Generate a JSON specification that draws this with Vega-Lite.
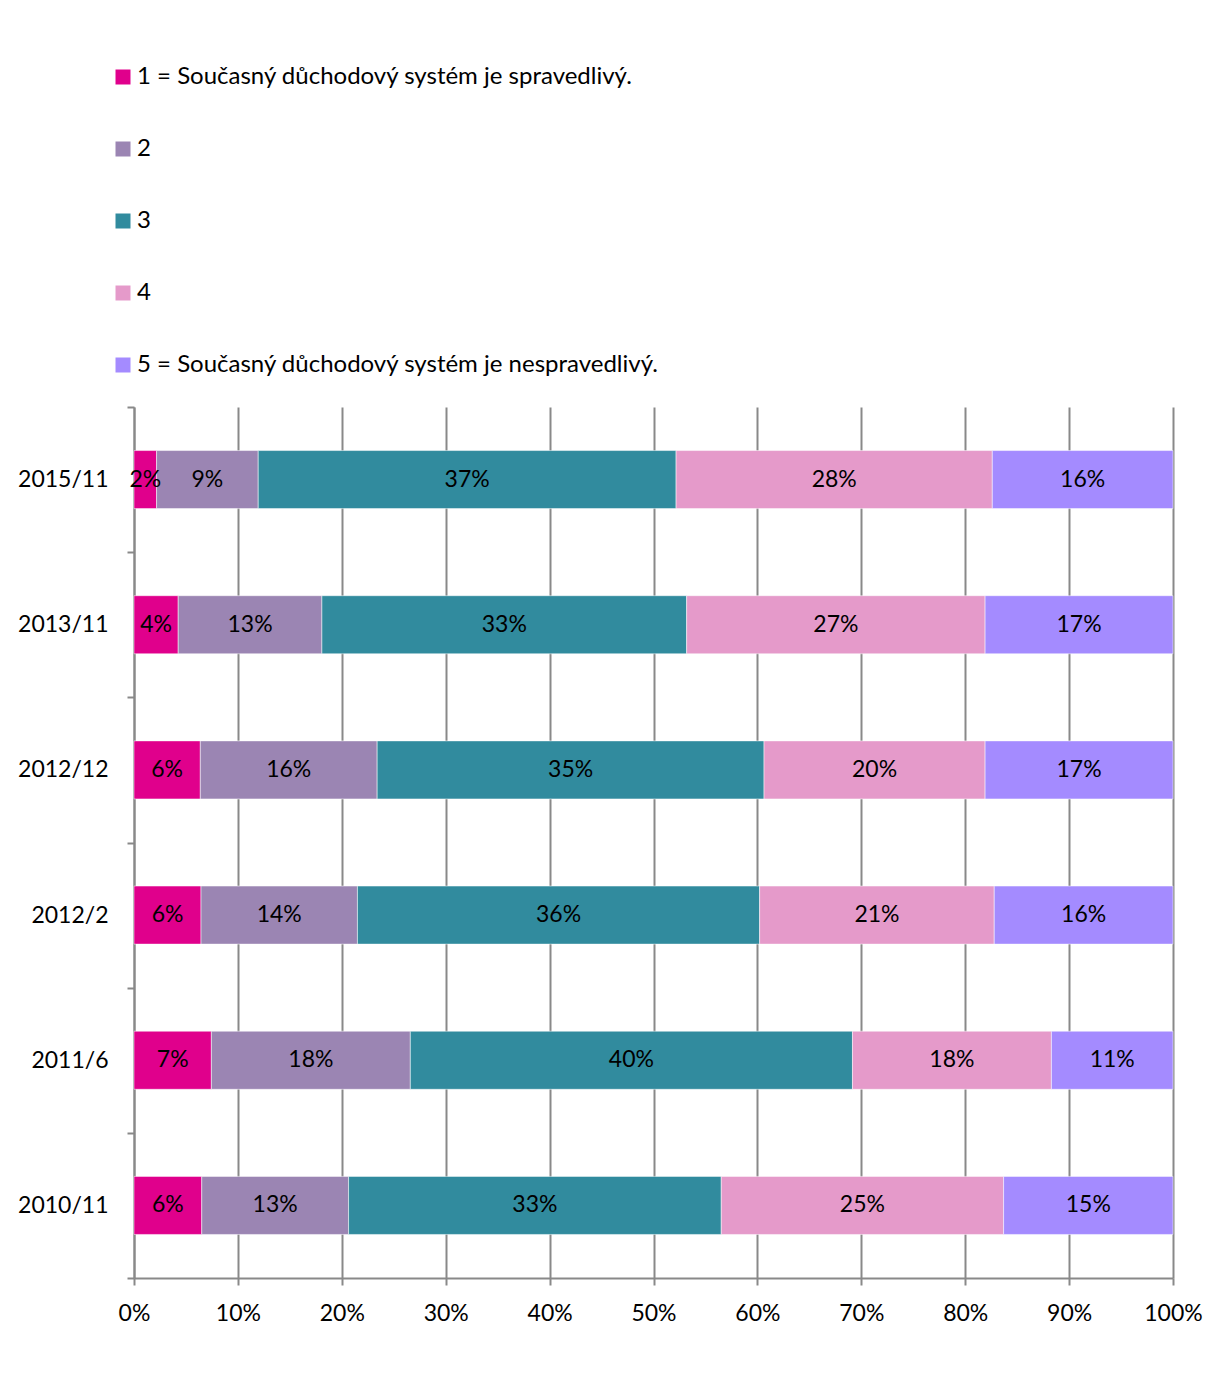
{
  "$schema": "https://vega.github.io/schema/vega-lite/v6.json",
  "autosize": {"type": "none"},
  "width": 1039,
  "height": 871,
  "padding": {"top": 407, "left": 134, "right": 36, "bottom": 104},
  "background": "white",
  "config": {
    "font": "Lato",
    "view": {"stroke": null}
  },
  "data": {
    "values": [
      {"period": "2015/11", "cat": "1 = Současný důchodový systém je spravedlivý.", "ord": 1, "value": 0.02},
      {"period": "2015/11", "cat": "2", "ord": 2, "value": 0.09},
      {"period": "2015/11", "cat": "3", "ord": 3, "value": 0.37},
      {"period": "2015/11", "cat": "4", "ord": 4, "value": 0.28},
      {"period": "2015/11", "cat": "5 = Současný důchodový systém je nespravedlivý.", "ord": 5, "value": 0.16},
      {"period": "2013/11", "cat": "1 = Současný důchodový systém je spravedlivý.", "ord": 1, "value": 0.04},
      {"period": "2013/11", "cat": "2", "ord": 2, "value": 0.13},
      {"period": "2013/11", "cat": "3", "ord": 3, "value": 0.33},
      {"period": "2013/11", "cat": "4", "ord": 4, "value": 0.27},
      {"period": "2013/11", "cat": "5 = Současný důchodový systém je nespravedlivý.", "ord": 5, "value": 0.17},
      {"period": "2012/12", "cat": "1 = Současný důchodový systém je spravedlivý.", "ord": 1, "value": 0.06},
      {"period": "2012/12", "cat": "2", "ord": 2, "value": 0.16},
      {"period": "2012/12", "cat": "3", "ord": 3, "value": 0.35},
      {"period": "2012/12", "cat": "4", "ord": 4, "value": 0.20},
      {"period": "2012/12", "cat": "5 = Současný důchodový systém je nespravedlivý.", "ord": 5, "value": 0.17},
      {"period": "2012/2", "cat": "1 = Současný důchodový systém je spravedlivý.", "ord": 1, "value": 0.06},
      {"period": "2012/2", "cat": "2", "ord": 2, "value": 0.14},
      {"period": "2012/2", "cat": "3", "ord": 3, "value": 0.36},
      {"period": "2012/2", "cat": "4", "ord": 4, "value": 0.21},
      {"period": "2012/2", "cat": "5 = Současný důchodový systém je nespravedlivý.", "ord": 5, "value": 0.16},
      {"period": "2011/6", "cat": "1 = Současný důchodový systém je spravedlivý.", "ord": 1, "value": 0.07},
      {"period": "2011/6", "cat": "2", "ord": 2, "value": 0.18},
      {"period": "2011/6", "cat": "3", "ord": 3, "value": 0.40},
      {"period": "2011/6", "cat": "4", "ord": 4, "value": 0.18},
      {"period": "2011/6", "cat": "5 = Současný důchodový systém je nespravedlivý.", "ord": 5, "value": 0.11},
      {"period": "2010/11", "cat": "1 = Současný důchodový systém je spravedlivý.", "ord": 1, "value": 0.06},
      {"period": "2010/11", "cat": "2", "ord": 2, "value": 0.13},
      {"period": "2010/11", "cat": "3", "ord": 3, "value": 0.33},
      {"period": "2010/11", "cat": "4", "ord": 4, "value": 0.25},
      {"period": "2010/11", "cat": "5 = Současný důchodový systém je nespravedlivý.", "ord": 5, "value": 0.15}
    ]
  },
  "encoding": {
    "y": {
      "field": "period",
      "type": "nominal",
      "sort": ["2015/11", "2013/11", "2012/12", "2012/2", "2011/6", "2010/11"],
      "scale": {"paddingInner": 0, "paddingOuter": 0},
      "axis": {
        "title": null,
        "tickBand": "extent",
        "tickSize": 7,
        "tickColor": "#898989",
        "tickWidth": 2,
        "domainColor": "#898989",
        "domainWidth": 2,
        "labelFontSize": 23,
        "labelColor": "black",
        "labelPadding": 19,
        "labelFont": "Lato",
        "grid": false
      }
    }
  },
  "layer": [
    {
      "mark": {"type": "bar", "height": {"band": 0.4}, "stroke": "white", "strokeWidth": 0.5},
      "encoding": {
        "x": {
          "field": "value",
          "type": "quantitative",
          "stack": "normalize",
          "scale": {"domain": [0, 1]},
          "axis": {
            "title": null,
            "format": ".0%",
            "values": [0, 0.1, 0.2, 0.3, 0.4, 0.5, 0.6, 0.7, 0.8, 0.9, 1],
            "labelFlush": false,
            "labelOverlap": false,
            "grid": true,
            "gridColor": "#898989",
            "gridWidth": 2,
            "gridOpacity": 1,
            "tickSize": 7,
            "tickColor": "#898989",
            "tickWidth": 2,
            "domainColor": "#898989",
            "domainWidth": 2,
            "labelFontSize": 23,
            "labelColor": "black",
            "labelPadding": 17,
            "labelFont": "Lato"
          }
        },
        "color": {
          "field": "cat",
          "type": "nominal",
          "sort": ["1 = Současný důchodový systém je spravedlivý.", "2", "3", "4", "5 = Současný důchodový systém je nespravedlivý."],
          "scale": {
            "domain": ["1 = Současný důchodový systém je spravedlivý.", "2", "3", "4", "5 = Současný důchodový systém je nespravedlivý."],
            "range": ["#E0008C", "#9B85B3", "#318B9E", "#E59ACA", "#A48BFF"]
          },
          "legend": {
            "title": null,
            "orient": "none",
            "legendX": -23,
            "legendY": -342,
            "symbolType": "square",
            "symbolSize": 225,
            "symbolStrokeWidth": 0,
            "labelFontSize": 24,
            "labelFont": "Lato",
            "labelColor": "black",
            "labelOffset": 2,
            "rowPadding": 48,
            "labelLimit": 800
          }
        },
        "order": {"field": "ord", "type": "quantitative"}
      }
    },
    {
      "mark": {"type": "text", "fontSize": 23, "font": "Lato", "color": "black", "align": "center", "baseline": "middle"},
      "encoding": {
        "x": {"field": "value", "type": "quantitative", "stack": "normalize", "bandPosition": 0.5},
        "text": {"field": "value", "type": "quantitative", "format": ".0%"},
        "order": {"field": "ord", "type": "quantitative"}
      }
    }
  ]
}
